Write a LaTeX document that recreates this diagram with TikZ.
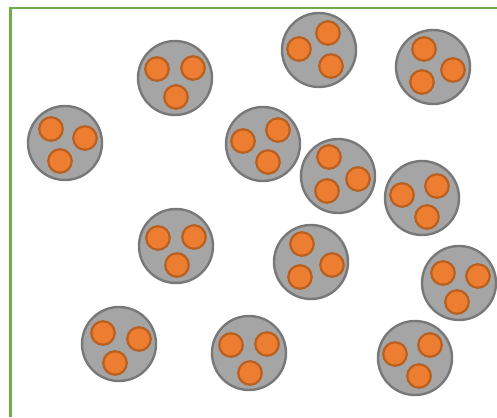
\documentclass[tikz,border=0pt]{standalone}
\usetikzlibrary{shapes.geometric}

\definecolor{cellgray}{HTML}{A5A5A5}
\definecolor{cellrim}{HTML}{787878}
\definecolor{dotorange}{HTML}{ED7D31}
\definecolor{dotrim}{HTML}{B8601F}
\definecolor{framegreen}{HTML}{70AD47}

\begin{document}
\begin{tikzpicture}[
    x=1pt, y=-1pt,
    cell/.style={circle, draw=cellrim, fill=cellgray, line width=2.4pt,
        minimum size=74pt, inner sep=0pt},
    dot/.style={circle, draw=dotrim, fill=dotorange, line width=2.2pt,
        minimum size=23.5pt, inner sep=0pt},
    frame/.style={draw=framegreen, line width=2.7pt},
]

\useasboundingbox (0,0) rectangle (497,417);

% ---- green frame (open to the right and bottom) ----
\coordinate (framecorner) at (10.5,8);
\coordinate (framebottom) at (10.5,417);
\coordinate (frameright)  at (497,8);
\draw[frame] (framebottom) -- (framecorner) -- (frameright);

% ---- cells: centre, then its three dots ----
\foreach \n/\cx/\cy/\ax/\ay/\bx/\by/\dx/\dy in {
    1/65/143/51/129/85/138/60/161,
    2/175/78/157/69/193/68/176/97,
    3/319/50/299/49/328/33/331/66,
    4/433/67/424/49/453/70/422/82,
    5/263/144/243/141/278/130/268/162,
    6/338/176/329/157/358/179/327/191,
    7/422/198/402/195/437/186/427/217,
    8/176/246/158/238/194/237/177/265,
    9/311/262/302/244/332/265/300/277,
    10/459/283/443/273/478/276/457/302,
    11/415/358/395/354/430/345/419/376,
    12/119/344/103/333/139/339/115/363,
    13/249/353/231/345/267/344/250/373}{
  \node (cell\n)  [cell] at (\cx,\cy) {};
  \node (cell\n a) [dot] at (\ax,\ay) {};
  \node (cell\n b) [dot] at (\bx,\by) {};
  \node (cell\n c) [dot] at (\dx,\dy) {};
}

\end{tikzpicture}
\end{document}
